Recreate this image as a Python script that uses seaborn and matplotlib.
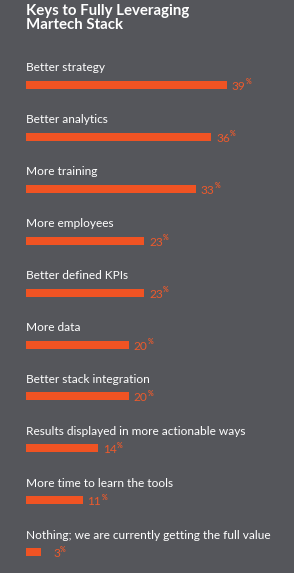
import matplotlib
matplotlib.use("Agg")
import matplotlib.pyplot as plt
import seaborn as sns
import pandas as pd

title = "Keys to Fully Leveraging\nMartech Stack"
categories = [
    "Better strategy",
    "Better analytics",
    "More training",
    "More employees",
    "Better defined KPIs",
    "More data",
    "Better stack integration",
    "Results displayed in more actionable ways",
    "More time to learn the tools",
    "Nothing; we are currently getting the full value",
]
values = [39, 36, 33, 23, 23, 20, 20, 14, 11, 3]

BG = "#55565b"
BAR = "#f05323"
VAL = "#ee5a2c"

sns.set_theme(style="white")
plt.rcParams["font.family"] = ["Lato", "DejaVu Sans"]

W, H = 294, 573
fig = plt.figure(figsize=(W / 100, H / 100), dpi=100)
fig.patch.set_facecolor(BG)

x0_px = 26
ax = fig.add_axes([x0_px / W, 0, 1 - x0_px / W, 1])
ax.set_facecolor(BG)

px_per_unit = 5.15
step = 51.9
first = 85

df = pd.DataFrame({"cat": categories, "val": values})
sns.barplot(data=df, x="val", y="cat", orient="h", color=BAR, saturation=1,
            width=8 / step, ax=ax, order=categories, linewidth=0, edgecolor="none")
ax.set_ylim((H - first) / step, -first / step)
ax.set_xlim(0, (W - x0_px) / px_per_unit)
ax.axis("off")

for i, (c, v) in enumerate(zip(categories, values)):
    ax.text(0, i - 17 / step, c, color="white", fontsize=8.6, va="center", ha="left")
    xr = v + 18.5 / px_per_unit
    ax.text(xr, i + 1.5 / step, str(v), color=VAL, fontsize=8.6, va="center", ha="right")
    ax.text(xr + 0.05, i - 3 / step, "%", color=VAL, fontsize=5, va="center", ha="left",
            fontweight="bold")

fig.text(x0_px / W, 1 - 4 / H, title, color="white", fontsize=10.8, fontweight="bold",
         va="top", ha="left", linespacing=1.0)

fig.savefig("out.png", dpi=100, facecolor=BG)
